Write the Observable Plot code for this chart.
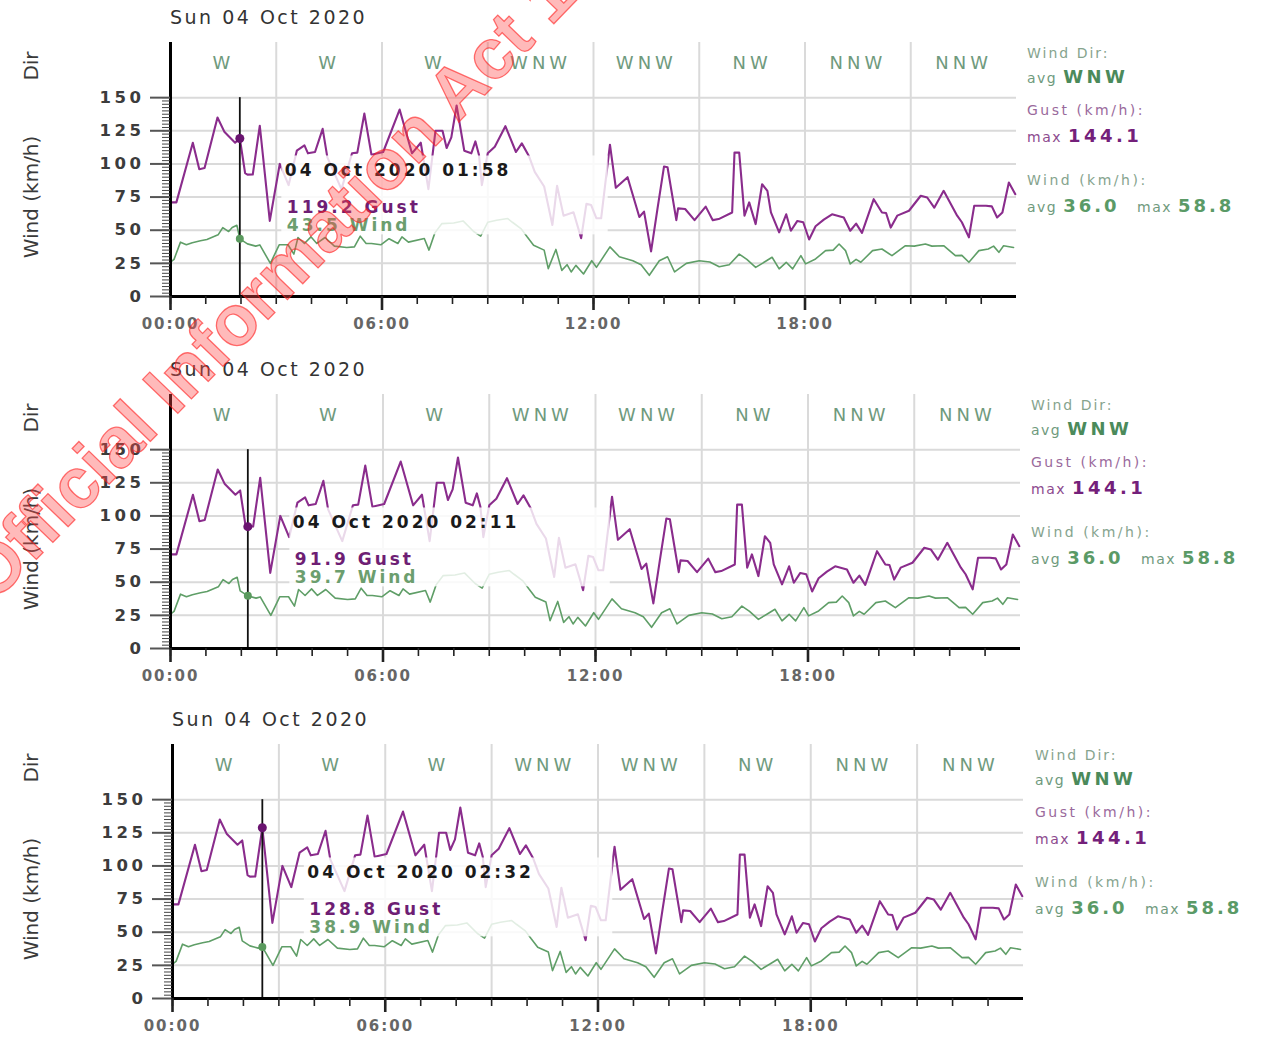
<!DOCTYPE html>
<html><head><meta charset="utf-8">
<script src="https://cdn.jsdelivr.net/npm/d3@7"></script>
<script src="https://cdn.jsdelivr.net/npm/@observablehq/plot@0.6"></script>
<style>
html,body{margin:0;padding:0;background:#fff;width:1271px;height:1037px;overflow:hidden;font-family:"DejaVu Sans",sans-serif;}
.panel{position:absolute;left:0;width:1271px;height:350px;}
.panel svg{position:absolute;left:0;top:0;display:block;overflow:visible;}
.title{position:absolute;top:6px;font-size:19px;letter-spacing:2.5px;color:#333;white-space:nowrap;line-height:22px;}
.ylab{position:absolute;transform:translate(-50%,-50%) rotate(-90deg);white-space:nowrap;color:#3a3a3a;font-size:20px;line-height:22px;}
.leg{position:absolute;white-space:nowrap;line-height:22px;letter-spacing:2px;font-size:14px;}
.leg span{font-size:14px;letter-spacing:1.5px;}
.leg b{font-size:18px;letter-spacing:3.5px;}
#wm{position:absolute;left:0;top:0;pointer-events:none;}
</style></head><body>
<script>
// ---- data ----
const dateTitle = "Sun 04 Oct 2020";
const tooltipDate = "04 Oct 2020";

const gustTimes = ["00:00","00:10","00:38","00:49","00:58","01:20","01:32","01:50","01:58","02:07","02:11","02:20","02:32","02:49","03:06","03:21","03:35","03:48","03:54","04:06","04:19","04:27","04:51","05:09","05:18","05:30","05:42","06:02","06:30","06:51","07:06","07:19","07:31","07:43","07:50","07:58","08:07","08:20","08:32","08:39","08:45","08:50","09:00","09:12","09:30","09:48","09:58","10:10","10:20","10:36","10:50","10:58","11:09","11:26","11:39","11:48","11:56","12:05","12:13","12:28","12:38","12:58","13:18","13:26","13:38","13:49","14:00","14:06","14:21","14:24","14:36","14:52","15:11","15:23","15:33","15:56","16:00","16:08","16:17","16:25","16:36","16:47","16:56","17:02","17:16","17:28","17:36","17:47","17:57","18:07","18:18","18:32","18:46","19:06","19:17","19:27","19:37","19:57","20:11","20:18","20:26","20:37","20:57","21:17","21:28","21:40","21:56","22:19","22:27","22:39","22:48","23:08","23:18","23:27","23:36","23:47","23:58"];
const gustValues = [71,71,116,96,97,135,124,116,119.2,93,91.9,92,128.8,57,100,84,110,114,108,109,126.5,105,81,108,108.5,138,107,109,141,108,116,81,125,125,112,120,144.1,110,108,117,107,84,108,113,128.5,109,115.5,106,94,83,54,83.5,61,63.5,44,70,69,59,59,114.5,82,90,60,64,34,66.5,98,97.5,57.6,66.5,66,57.6,67.8,57.6,58.4,63.4,108.5,108.5,61,71,54.6,84.7,79.7,63.4,48.4,62,49.6,57,56,43,53,58,62,59.6,49.6,55,48,73.4,63.4,63,52,61,64.7,76,74.7,67,79.7,61,56,44.6,68.4,68.4,68,59.6,63.4,86,77.2];

const windTimes = ["00:00","00:06","00:17","00:27","00:37","00:51","01:02","01:21","01:29","01:39","01:45","01:53","01:58","02:11","02:25","02:32","02:50","03:05","03:20","03:30","03:37","03:48","03:59","04:09","04:23","04:39","05:00","05:13","05:23","05:33","05:42","05:58","06:12","06:27","06:34","06:45","07:12","07:20","07:30","07:42","08:02","08:18","08:36","08:48","09:00","09:15","09:34","09:42","09:57","10:07","10:18","10:36","10:43","10:56","11:06","11:15","11:22","11:30","11:43","11:57","12:05","12:28","12:44","13:07","13:21","13:35","13:52","14:06","14:18","14:38","15:00","15:18","15:34","15:51","16:08","16:21","16:36","16:51","17:04","17:16","17:28","17:39","17:53","18:01","18:18","18:35","18:48","18:58","19:09","19:17","19:27","19:35","19:55","20:11","20:28","20:51","21:06","21:25","21:36","21:56","22:16","22:27","22:39","22:56","23:12","23:21","23:30","23:38","23:55"];
const windValues = [26,28,41,39,40.5,42,43,46.5,52,49,52,53.7,43.5,39.7,38,38.9,25,39,39,32,44.5,40,45,40,44.5,38,37,37.4,45.5,40,40,39,43.6,40,45,41,43.7,35,48,55,55.5,57,49,45.5,56,57.5,58.8,56,51,45,38.7,35,21,35.5,19.7,24,18.5,23.5,17,27,22,37.4,30,27,24,16,27,30,18.5,25,27,26,22.5,24,32,28,22,26,29.6,20.8,25.8,20.8,30.8,24.6,28.3,34.6,35,39.6,34.6,24.6,28,25.8,34.6,35.8,30.8,38.3,38,39.6,38,38.3,30.8,31,25.8,34.6,35.8,38,33.3,38.3,37];

const dirStartTimes = ["00:00","03:00","06:00","09:00","12:00","15:00","18:00","21:00"];
const dirLabels = ["W","W","W","WNW","WNW","NW","NNW","NNW"];

const yTicks = [0,25,50,75,100,125,150];
const xTickTimes = ["00:00","06:00","12:00","18:00"];
const cursorTimes = ["01:58","02:11","02:32"];

const legendDir = "WNW";
const legendGustMax = "144.1";
const legendWindAvg = "36.0";
const legendWindMax = "58.8";

// ---- build ----
const toH = s => { const [h, m] = s.split(":").map(Number); return h + m / 60; };
const gust = gustTimes.map((t, i) => ({t: toH(t), v: gustValues[i], s: t}));
const wind = windTimes.map((t, i) => ({t: toH(t), v: windValues[i], s: t}));
const dirs = dirLabels.map((d, i) => ({t: toH(dirStartTimes[i]) + 1.5, d}));
const xTicks = xTickTimes.map(toH);
const hourTicks = d3.range(0, 24, 1);
const gridHours = d3.range(3, 24, 3);
const minorY = d3.range(0, 150.01, 2.5);

const GUST = "#8a2c8c", WIND = "#5f9e67";
const H = 345, FRAME_TOP = 42, ZERO_Y = 296;
const YTOP = 191.6;
const ppu = (ZERO_Y - FRAME_TOP) / YTOP;

// letter spacing by font size (the reference text is drawn wide)
const spacing = {"17": "3px", "18": "4px", "16.5": "3.5px", "15": "2px"};

const panels = [
  {top: 0,   ml: 170, mr: 255, legendX: 1027},
  {top: 352, ml: 170, mr: 251, legendX: 1031},
  {top: 702, ml: 172, mr: 248, legendX: 1035}
];

panels.forEach((p, k) => {
  const div = document.createElement("div");
  div.className = "panel";
  div.style.top = p.top + "px";
  document.body.appendChild(div);

  const pph = (1271 - p.ml - p.mr) / 24;
  const cs = cursorTimes[k];
  const cg = gust.find(d => d.s === cs);
  const cw = wind.find(d => d.s === cs);
  const cur = {t: toH(cs), g: cg.v, w: cw.v};
  const fmt = v => v.toFixed(1);

  const plot = Plot.plot({
    width: 1271, height: H,
    marginTop: FRAME_TOP, marginBottom: H - ZERO_Y, marginLeft: p.ml, marginRight: p.mr,
    x: {domain: [0, 24], axis: null, label: null},
    y: {domain: [0, YTOP], axis: null, label: null},
    style: {fontFamily: "DejaVu Sans", background: "transparent", overflow: "visible"},
    marks: [
      Plot.ruleY(yTicks.slice(1), {x1: 0, x2: 24, stroke: "#dadada", strokeWidth: 2}),
      Plot.ruleX(gridHours, {y1: 0, y2: YTOP, stroke: "#dadada", strokeWidth: 2}),
      Plot.text(dirs, {x: "t", y: (ZERO_Y - 63) / ppu, text: "d", fill: "#6f9a7d", fontSize: 18}),
      Plot.line(wind, {x: "t", y: "v", stroke: WIND, strokeWidth: 1.6}),
      Plot.line(gust, {x: "t", y: "v", stroke: GUST, strokeWidth: 2.1}),
      Plot.rect([cur], {x1: d => d.t + 42 / pph, x2: toH("12:25"), y1: 46.5, y2: 106, fill: "white", fillOpacity: 0.82}),
      Plot.ruleX([cur], {x: "t", y1: 0, y2: 150, stroke: "#111", strokeWidth: 1.8}),
      Plot.dot([cur], {x: "t", y: "g", r: 4.5, fill: "#6a1470", stroke: "none"}),
      Plot.dot([cur], {x: "t", y: "w", r: 4, fill: "#5a9a5e", stroke: "none"}),
      Plot.text([cur], {x: "t", y: (ZERO_Y - 170) / ppu, dx: 45, text: d => tooltipDate + " " + cs, textAnchor: "start", fontSize: 17, fontWeight: "bold", fill: "#1a1a1a"}),
      Plot.text([cur], {x: "t", y: (ZERO_Y - 207) / ppu, dx: 47, text: d => fmt(d.g) + " Gust", textAnchor: "start", fontSize: 17, fontWeight: "bold", fill: "#6e1e74"}),
      Plot.text([cur], {x: "t", y: (ZERO_Y - 225) / ppu, dx: 47, text: d => fmt(d.w) + " Wind", textAnchor: "start", fontSize: 17, fontWeight: "bold", fill: "#6c9e6e"}),
      Plot.ruleX([0], {y1: 0, y2: YTOP, stroke: "#000", strokeWidth: 3}),
      Plot.ruleY([0], {x1: 0, x2: 24, stroke: "#000", strokeWidth: 3}),
      Plot.axisY(minorY, {anchor: "left", tickSize: 8, tickFormat: () => "", stroke: "#444", strokeWidth: 1, label: null}),
      Plot.axisY(yTicks, {anchor: "left", tickSize: 20, tickPadding: 6, stroke: "#555", strokeWidth: 2, fontSize: 16.5, fontWeight: "bold", fill: "#3c3c3c", label: null}),
      Plot.axisX(hourTicks, {anchor: "bottom", tickSize: 8, tickFormat: () => "", stroke: "#222", strokeWidth: 1.6, label: null}),
      Plot.axisX(xTicks, {anchor: "bottom", tickSize: 14, tickPadding: 8, tickFormat: d => xTickTimes[xTicks.indexOf(d)], stroke: "#222", strokeWidth: 2.6, fontSize: 15, fontWeight: "bold", fill: "#666", label: null})
    ]
  });
  plot.querySelectorAll("g[font-size]").forEach(g => {
    const s = spacing[g.getAttribute("font-size")];
    if (s) g.setAttribute("letter-spacing", s);
  });
  div.appendChild(plot);

  const add = (cls, html, style) => {
    const e = document.createElement("div");
    e.className = cls; e.innerHTML = html; e.style.cssText += style;
    div.appendChild(e);
  };
  add("title", dateTitle, `left:${p.ml}px;`);
  add("ylab", "Dir", "left:31px;top:66px;");
  add("ylab", "Wind (km/h)", "left:31px;top:197px;");
  const L = p.legendX;
  add("leg", "Wind Dir:", `left:${L}px;top:${53 - 11}px;color:#86a48e;`);
  add("leg", `<span style="color:#6f9a7d">avg </span><b style="color:#4b8a5b">${legendDir}</b>`, `left:${L}px;top:${77 - 11}px;`);
  add("leg", "Gust (km/h):", `left:${L}px;top:${110 - 11}px;color:#9a6a9c;letter-spacing:2.5px;`);
  add("leg", `<span style="color:#8c4a8e">max </span><b style="color:#74207a">${legendGustMax}</b>`, `left:${L}px;top:${136 - 11}px;`);
  add("leg", "Wind (km/h):", `left:${L}px;top:${180 - 11}px;color:#86a48e;letter-spacing:2.5px;`);
  add("leg", `<span style="color:#6f9a7d">avg </span><b style="color:#5a9a66;letter-spacing:3px">${legendWindAvg}</b>`, `left:${L}px;top:${206 - 11}px;`);
  add("leg", `<span style="color:#6f9a7d">max </span><b style="color:#5a9a66;letter-spacing:3px">${legendWindMax}</b>`, `left:${L + 110}px;top:${206 - 11}px;`);
});

// watermark
const ns = "http://www.w3.org/2000/svg";
const wm = document.createElementNS(ns, "svg");
wm.setAttribute("id", "wm"); wm.setAttribute("width", 1271); wm.setAttribute("height", 1037);
const t = document.createElementNS(ns, "text");
t.setAttribute("transform", "translate(-6.5,604) rotate(-46)");
t.setAttribute("font-family", "Liberation Sans, Arial, sans-serif");
t.setAttribute("font-weight", "bold");
t.setAttribute("font-size", "71");
t.setAttribute("fill", "#ff4a4a");
t.setAttribute("fill-opacity", "0.38");
t.setAttribute("stroke", "#ff1a1a");
t.setAttribute("stroke-opacity", "0.6");
t.setAttribute("stroke-width", "1.3");
t.textContent = "Official Information Act 1982";
wm.appendChild(t);
document.body.appendChild(wm);
</script>
</body></html>
